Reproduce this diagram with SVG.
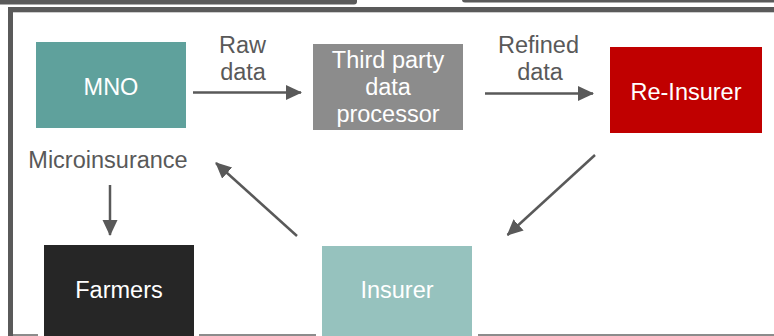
<svg xmlns="http://www.w3.org/2000/svg" width="774" height="336" viewBox="0 0 774 336">
  <defs>
    <marker id="head" markerUnits="userSpaceOnUse" markerWidth="16" markerHeight="16" refX="15" refY="7.5" orient="auto">
      <path d="M0,0 L16,7.5 L0,15 z" fill="#595959"/>
    </marker>
    <style>
      .lbl { font-family: "Liberation Sans", Arial, sans-serif; font-size: 23.5px; fill: #595959; text-anchor: middle; }
      .in { font-family: "Liberation Sans", Arial, sans-serif; font-size: 23.5px; fill: #ffffff; text-anchor: middle; }
      .edge { stroke: #595959; stroke-width: 2.5; fill: none; marker-end: url(#head); }
      .frame { fill: #5a5a5a; }
    </style>
  </defs>

  <rect width="774" height="336" fill="#ffffff"/>

  <!-- tab strips along the top edge -->
  <rect x="-6" y="-6" width="363" height="10.5" rx="3" class="frame"/>
  <rect x="462" y="-6" width="318" height="8.5" rx="3" class="frame"/>

  <!-- panel frame -->
  <rect x="8" y="7" width="766" height="5.3" class="frame"/>
  <rect x="8" y="7" width="5" height="329" class="frame"/>
  <g stroke="#666666" stroke-width="1.5">
    <line x1="13" y1="335" x2="38" y2="335"/>
    <line x1="199" y1="335" x2="316" y2="335"/>
    <line x1="478" y1="335" x2="774" y2="335"/>
  </g>

  <g id="mno">
    <rect x="36" y="42" width="150" height="86" fill="#5fa19c"/>
    <text x="111" y="95" class="in">MNO</text>
  </g>

  <g id="processor">
    <rect x="313" y="44" width="150" height="86" fill="#8c8c8c"/>
    <text x="388" y="68.3" class="in">Third party</text>
    <text x="388" y="95" class="in">data</text>
    <text x="388" y="121.7" class="in">processor</text>
  </g>

  <g id="reinsurer">
    <rect x="610" y="47" width="152" height="86" fill="#c00000"/>
    <text x="686" y="100" class="in">Re-Insurer</text>
  </g>

  <g id="microinsurance">
    <text x="108" y="167.7" class="lbl">Microinsurance</text>
  </g>

  <g id="farmers">
    <rect x="44" y="245" width="150" height="91" fill="#262626"/>
    <text x="119" y="298.3" class="in">Farmers</text>
  </g>

  <g id="insurer">
    <rect x="322" y="246" width="150" height="90" fill="#96c2be"/>
    <text x="397" y="298.3" class="in">Insurer</text>
  </g>

  <g id="connectors">
    <line x1="193" y1="92.5" x2="301" y2="92.5" class="edge"/>
    <text x="242.5" y="53.3" class="lbl">Raw</text>
    <text x="243" y="80" class="lbl">data</text>

    <line x1="485" y1="93.5" x2="593" y2="93.5" class="edge"/>
    <text x="538.5" y="52.7" class="lbl">Refined</text>
    <text x="540" y="80" class="lbl">data</text>

    <line x1="595" y1="155" x2="507.5" y2="235" class="edge"/>
    <line x1="297" y1="236" x2="216" y2="163" class="edge"/>
    <line x1="110" y1="185" x2="110" y2="235" class="edge"/>
  </g>
</svg>
